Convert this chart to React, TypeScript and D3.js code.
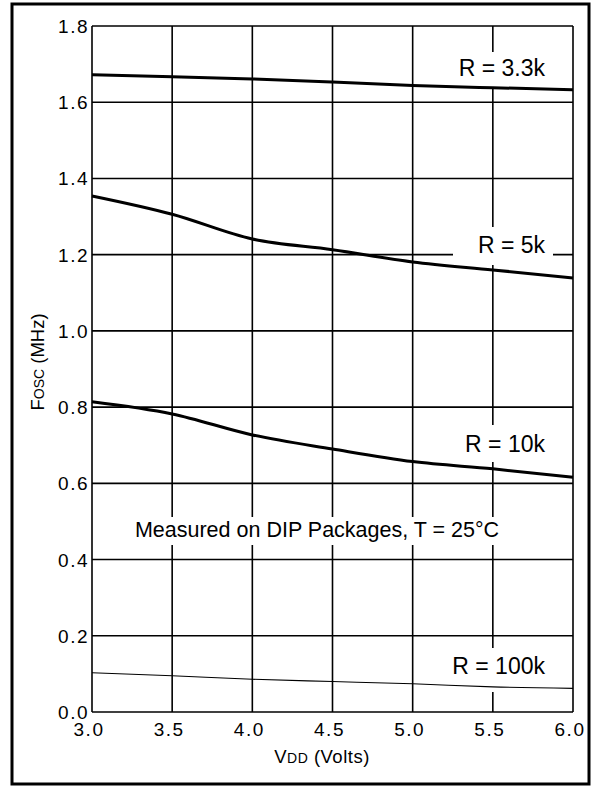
import * as d3 from 'd3'

// V_DD sample points (volts)
const VDD = [3.0, 3.5, 4.0, 4.5, 5.0, 5.5, 6.0]

// Fosc (MHz) per resistor value, read at each VDD point
const R33K = [1.672, 1.667, 1.661, 1.653, 1.644, 1.638, 1.633]
const R5K = [1.354, 1.306, 1.241, 1.213, 1.181, 1.160, 1.139]
const R10K = [0.814, 0.782, 0.727, 0.690, 0.657, 0.638, 0.616]
const R100K = [0.103, 0.095, 0.086, 0.080, 0.074, 0.066, 0.062]

const X_TICKS = [3.0, 3.5, 4.0, 4.5, 5.0, 5.5, 6.0]
const Y_TICKS = [0, 0.2, 0.4, 0.6, 0.8, 1.0, 1.2, 1.4, 1.6, 1.8]

const FONT = "'Liberation Sans', Arial, Helvetica, sans-serif"

export default function App() {
  const W = 592
  const H = 786
  const left = 92, right = 573, top = 26, bottom = 712

  const x = d3.scaleLinear().domain([3, 6]).range([left, right])
  const y = d3.scaleLinear().domain([0, 1.8]).range([bottom, top])

  const line = d3.line<number>()
    .x((_, i) => x(VDD[i]))
    .y(d => y(d))
    .curve(d3.curveMonotoneX)

  const curves = [
    { vals: R33K, w: 3 },
    { vals: R5K, w: 3 },
    { vals: R10K, w: 3 },
    { vals: R100K, w: 1.1 },
  ]

  // label boxes knock out the grid behind the text
  const labels = [
    { text: 'R = 3.3k', bx: [446, 553], by: [52, 88], base: 76 },
    { text: 'R = 5k', bx: [453, 553], by: [227, 265], base: 253 },
    { text: 'R = 10k', bx: [450, 553], by: [425, 462], base: 452 },
    { text: 'R = 100k', bx: [440, 556], by: [648, 692], base: 674 },
  ]

  return (
    <svg width={W} height={H} style={{ position: 'absolute', left: 0, top: 0, background: '#fff' }}
      fontFamily={FONT}>
      {/* outer frame */}
      <rect x={12} y={4} width={577} height={780} fill="none" stroke="#000" strokeWidth={3} />

      {/* grid */}
      {X_TICKS.map(t => (
        <line key={'vx' + t} x1={x(t)} x2={x(t)} y1={top} y2={bottom} stroke="#000" strokeWidth={1.6} />
      ))}
      {Y_TICKS.map(t => (
        <line key={'hy' + t} x1={left} x2={right} y1={y(t)} y2={y(t)} stroke="#000" strokeWidth={1.6} />
      ))}

      {/* white backgrounds behind in-plot text */}
      {labels.map(l => (
        <rect key={'bg' + l.text} x={l.bx[0]} y={l.by[0]} width={l.bx[1] - l.bx[0]} height={l.by[1] - l.by[0]} fill="#fff" />
      ))}
      <rect x={124} y={517} width={388} height={28} fill="#fff" />

      {/* curves */}
      {curves.map((c, i) => (
        <path key={'c' + i} d={line(c.vals) ?? ''} fill="none" stroke="#000" strokeWidth={c.w} strokeLinejoin="round" />
      ))}

      {/* curve labels */}
      {labels.map(l => (
        <text key={'t' + l.text} x={545} y={l.base} textAnchor="end" fontSize={23}>{l.text}</text>
      ))}

      <text x={317} y={537} textAnchor="middle" fontSize={21.5}>
        Measured on DIP Packages, T = 25°C
      </text>

      {/* y tick labels */}
      {Y_TICKS.map(t => (
        <text key={'yl' + t} x={89} y={y(t) + 7} textAnchor="end" fontSize={19} letterSpacing={1.5}>
          {t.toFixed(1)}
        </text>
      ))}

      {/* x tick labels */}
      {X_TICKS.map(t => (
        <text key={'xl' + t} x={x(t) - 3} y={736} textAnchor="middle" fontSize={19} letterSpacing={1.5}>
          {t.toFixed(1)}
        </text>
      ))}

      {/* axis titles */}
      <text transform="translate(44,362) rotate(-90)" textAnchor="middle" fontSize={18.5}>
        F<tspan fontSize={14}>OSC</tspan> (MHz)
      </text>
      <text x={322} y={763} textAnchor="middle" fontSize={18.5} letterSpacing={0.5}>
        V<tspan fontSize={14}>DD</tspan> (Volts)
      </text>
    </svg>
  )
}
